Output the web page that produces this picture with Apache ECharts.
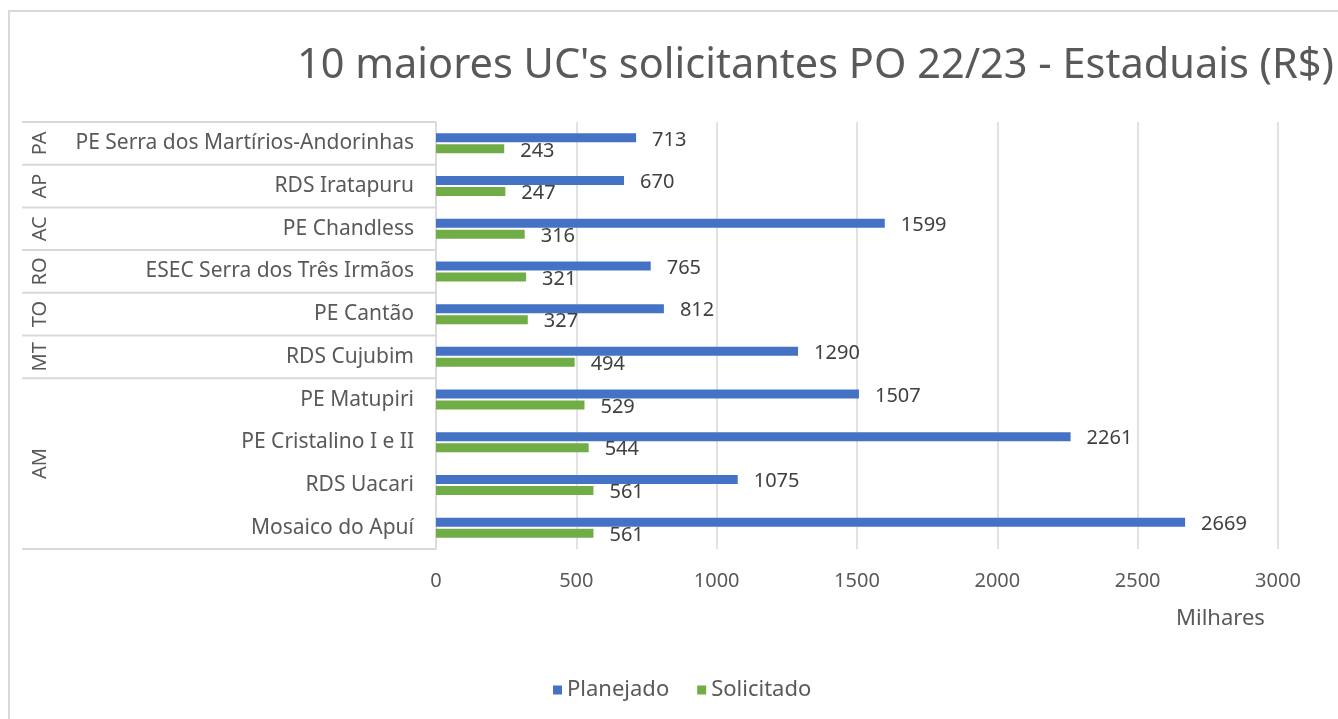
<!DOCTYPE html>
<html>
<head>
<meta charset="utf-8">
<script src="https://cdn.jsdelivr.net/npm/echarts@6/dist/echarts.min.js"></script>
<style>
  html, body { margin: 0; padding: 0; background: #fff; }
  #main { width: 1338px; height: 719px; }
</style>
</head>
<body>
<div id="main"></div>
<script>
// dados (milhares de R$)
var categorias = [
  'PE Serra dos Martírios-Andorinhas',
  'RDS Iratapuru',
  'PE Chandless',
  'ESEC Serra dos Três Irmãos',
  'PE Cantão',
  'RDS Cujubim',
  'PE Matupiri',
  'PE Cristalino I e II',
  'RDS Uacari',
  'Mosaico do Apuí'
];
var estados = ['PA', 'AP', 'AC', 'RO', 'TO', 'MT', 'AM'];
var estadoQtd = [1, 1, 1, 1, 1, 1, 4];
var planejado = [713, 670, 1599, 765, 812, 1290, 1507, 2261, 1075, 2669];
var solicitado = [243, 247, 316, 321, 327, 494, 529, 544, 561, 561];
var eixoX = { min: 0, max: 3000, interval: 500 };

var fonte = 'Noto Sans';
var cinza = '#595959';
var linha = '#d9d9d9';
var tam = 20;

var myChart = echarts.init(document.getElementById('main'));

var grid = { left: 436, top: 122, width: 842, height: 427 };

var rotulo = {
  show: true,
  position: 'right',
  distance: 16,
  offset: [0, 2],
  color: '#404040',
  fontFamily: fonte,
  fontSize: tam
};

var option = {
  backgroundColor: '#fff',
  animation: false,
  title: {
    text: "10 maiores UC's solicitantes PO 22/23 - Estaduais (R$)",
    left: 297,
    top: 45,
    padding: 0,
    textStyle: { fontFamily: fonte, fontSize: 41.5, fontWeight: 'normal', color: cinza }
  },
  legend: {
    data: ['Planejado', 'Solicitado'],
    left: 553,
    top: 679,
    padding: 0,
    itemWidth: 9,
    itemHeight: 9,
    itemGap: 28,
    icon: 'rect',
    textStyle: { fontFamily: fonte, fontSize: 22, color: cinza, padding: [0, 0, 0, 0] }
  },
  grid: grid,
  xAxis: {
    type: 'value',
    min: eixoX.min,
    max: eixoX.max,
    interval: eixoX.interval,
    axisLine: { show: false },
    axisTick: { show: false },
    splitLine: { lineStyle: { color: linha, width: 1.5 } },
    axisLabel: {
      fontFamily: fonte, fontSize: tam, color: cinza, margin: 22,
      formatter: function (v) { return String(v); }
    }
  },
  yAxis: {
    type: 'category',
    inverse: true,
    data: categorias,
    axisLine: { show: true, lineStyle: { color: linha, width: 1.5 } },
    axisTick: { show: false },
    axisLabel: { fontFamily: fonte, fontSize: 21, color: cinza, margin: 22 }
  },
  series: [
    {
      name: 'Planejado',
      type: 'bar',
      data: planejado,
      barWidth: 9,
      barGap: '22%',
      itemStyle: { color: '#4472C4' },
      label: rotulo
    },
    {
      name: 'Solicitado',
      type: 'bar',
      data: solicitado,
      barWidth: 9,
      itemStyle: { color: '#70AD47' },
      label: rotulo
    }
  ]
};

myChart.setOption(option);

// tabela de estados à esquerda, desenhada a partir dos dados
var graficos = [];
var banda = grid.height / categorias.length;
var topo = grid.top;
var idx = 0;
graficos.push({
  type: 'rect',
  shape: { x: 9, y: 11, width: 1400, height: 800 },
  style: { fill: 'none', stroke: linha, lineWidth: 2 },
  silent: true
});
graficos.push({
  type: 'line',
  shape: { x1: 22, y1: topo, x2: grid.left, y2: topo },
  style: { stroke: linha, lineWidth: 2 }
});
for (var i = 0; i < estados.length; i++) {
  var y0 = myChart.convertToPixel({ yAxisIndex: 0 }, categorias[idx]) - banda / 2;
  idx += estadoQtd[i];
  var y1 = y0 + banda * estadoQtd[i];
  graficos.push({
    type: 'line',
    shape: { x1: 22, y1: y1, x2: grid.left, y2: y1 },
    style: { stroke: linha, lineWidth: 2 }
  });
  graficos.push({
    type: 'text',
    x: 40,
    y: (y0 + y1) / 2,
    rotation: Math.PI / 2,
    style: {
      text: estados[i],
      fontFamily: fonte,
      fontSize: tam,
      fill: cinza,
      align: 'center',
      verticalAlign: 'middle'
    }
  });
}
graficos.push({
  type: 'text',
  x: 1176,
  y: 619,
  style: {
    text: 'Milhares',
    fontFamily: fonte,
    fontSize: 22,
    fill: cinza,
    align: 'left',
    verticalAlign: 'middle'
  }
});
myChart.setOption({ graphic: graficos });
</script>
</body>
</html>
